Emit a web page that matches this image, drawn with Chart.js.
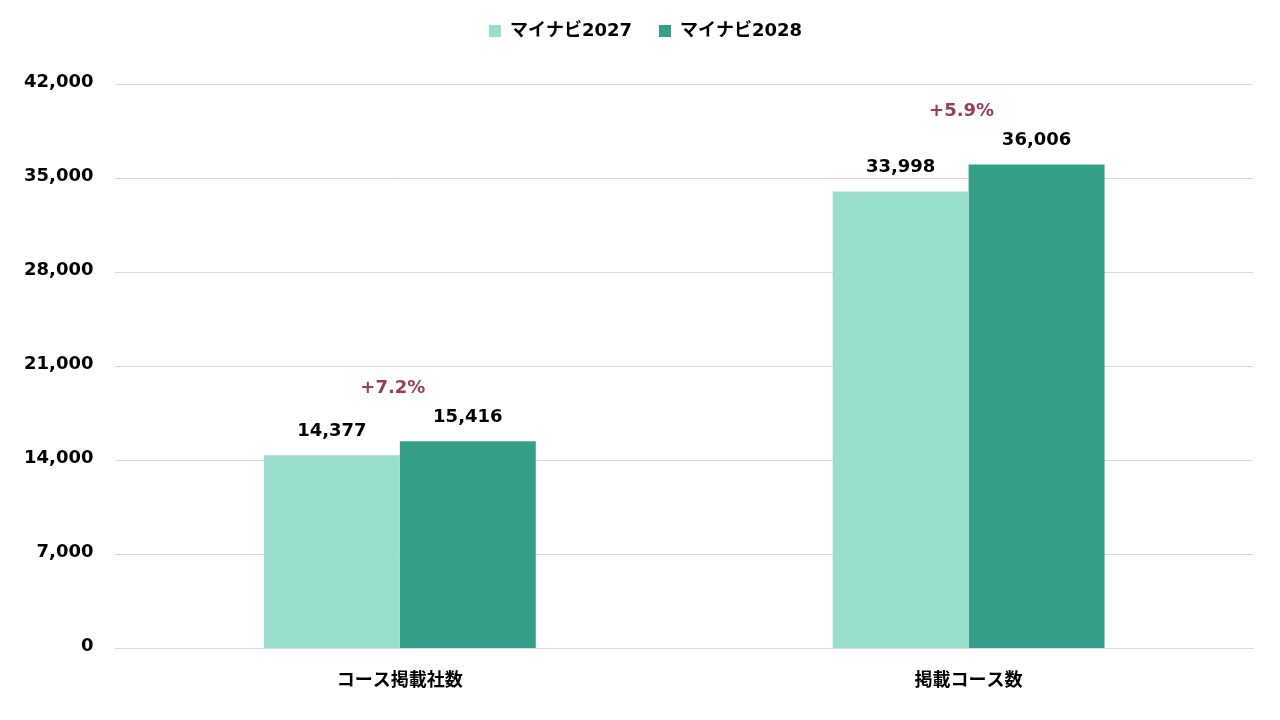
<!DOCTYPE html>
<html>
<head>
<meta charset="utf-8">
<script src="https://cdn.jsdelivr.net/npm/chart.js@4"></script>
<style>
  html, body { margin: 0; padding: 0; background: #fff; }
  #wrap { width: 1280px; height: 720px; }
</style>
</head>
<body>
<div id="wrap"><canvas id="myChart" width="1280" height="720"></canvas></div>
<script>
const categories = ['コース掲載社数', '掲載コース数'];
const seriesNames = ['マイナビ2027', 'マイナビ2028'];
const values2027 = [14377, 33998];
const values2028 = [15416, 36006];
const growthLabels = ['+7.2%', '+5.9%'];
const yTicks = [0, 7000, 14000, 21000, 28000, 35000, 42000];

const FONT = "'DejaVu Sans', 'Noto Sans CJK JP', sans-serif";

// value labels over each bar, growth label over each pair
const labelPlugin = {
  id: 'barLabels',
  afterDatasetsDraw(chart) {
    const ctx = chart.ctx;
    ctx.save();
    ctx.textAlign = 'center';
    ctx.textBaseline = 'middle';
    ctx.font = 'bold 18px ' + FONT;
    ctx.fillStyle = '#000';
    chart.data.datasets.forEach((ds, i) => {
      chart.getDatasetMeta(i).data.forEach((bar, j) => {
        ctx.fillText(ds.data[j].toLocaleString('en-US'), bar.x, bar.y - 24);
      });
    });
    const m0 = chart.getDatasetMeta(0).data;
    const m1 = chart.getDatasetMeta(1).data;
    ctx.fillStyle = '#9b3d5a';
    growthLabels.forEach((txt, j) => {
      const cx = (m0[j].x + m1[j].x) / 2 - 7;
      const top = Math.min(m0[j].y, m1[j].y);
      ctx.fillText(txt, cx, top - 53);
    });
    ctx.restore();
  }
};

// extra gap under the legend, and nudge it into place
const legendSpacing = {
  id: 'legendSpacing',
  beforeInit(chart) {
    const fit = chart.legend.fit;
    chart.legend.fit = function () {
      fit.bind(chart.legend)();
      this.height += 29;
    };
  },
  afterLayout(chart) {
    const lg = chart.legend;
    lg.left += 18;
    lg.right += 18;
    lg.top -= 5;
    lg.bottom -= 5;
  }
};

new Chart(document.getElementById('myChart'), {
  type: 'bar',
  data: {
    labels: categories,
    datasets: [
      { label: seriesNames[0], data: values2027, backgroundColor: '#99ddcc' },
      { label: seriesNames[1], data: values2028, backgroundColor: '#35a087' }
    ]
  },
  options: {
    responsive: false,
    animation: false,
    devicePixelRatio: 1,
    layout: { padding: { left: 2, right: 27, top: 0, bottom: 14 } },
    datasets: { bar: { categoryPercentage: 0.478, barPercentage: 1 } },
    plugins: {
      legend: {
        position: 'top',
        labels: {
          boxWidth: 12,
          boxHeight: 12,
          padding: 27,
          color: '#000',
          font: { family: FONT, size: 18, weight: 'bold' }
        }
      },
      tooltip: { enabled: false }
    },
    scales: {
      x: {
        grid: { display: false },
        border: { display: true, color: '#d9d9d9' },
        ticks: { color: '#000', padding: 14, font: { family: FONT, size: 18, weight: 'bold' } }
      },
      y: {
        min: 0,
        max: 42000,
        afterBuildTicks(axis) { axis.ticks = yTicks.map(v => ({ value: v })); },
        grid: { color: '#d9d9d9', drawTicks: false },
        border: { display: false },
        ticks: {
          color: '#000',
          padding: 22,
          labelOffset: -2,
          font: { family: FONT, size: 18, weight: 'bold' },
          callback: v => v.toLocaleString('en-US')
        }
      }
    }
  },
  plugins: [labelPlugin, legendSpacing]
});
</script>
</body>
</html>
